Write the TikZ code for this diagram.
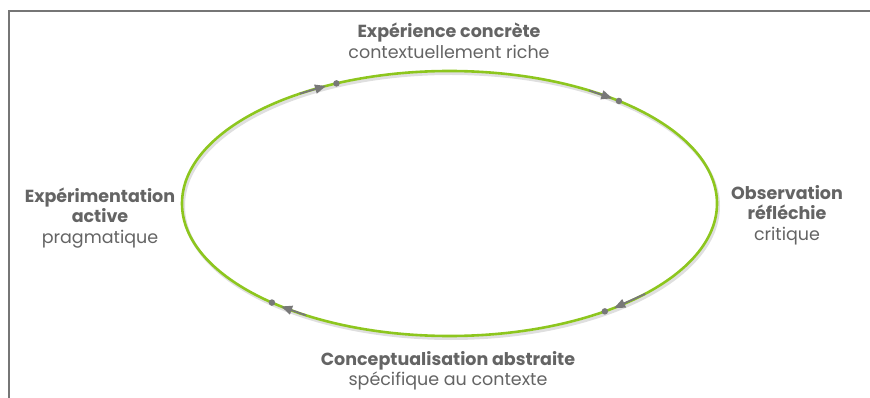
\documentclass[tikz,border=0pt]{standalone}
\usepackage{fontspec}
\setmainfont{Poppins}
\usetikzlibrary{calc,arrows.meta}
\definecolor{cyclegreen}{RGB}{141,198,30}
\definecolor{markgray}{RGB}{120,120,120}
\definecolor{textgray}{RGB}{100,100,100}
\definecolor{framegray}{RGB}{118,118,118}

\begin{document}
\begin{tikzpicture}[
    x=1pt, y=-1pt,
    stage/.style={
        align=center,
        text=textgray,
        font=\fontsize{17.5}{20.5}\selectfont  % title + subtitle, one line each
    },
    flow/.style={
        draw=markgray,
        line width=1.8pt,
        -{Triangle[length=11pt,width=9pt]}
    },
    pin/.style={
        circle,
        fill=markgray,
        minimum size=6.5pt,
        inner sep=0pt
    }
]
\useasboundingbox (0,0) rectangle (870,398);

% frame on top and left
\draw[framegray, line width=2pt] (8.5,398) -- (8.5,11) -- (870,11);

% the learning cycle
\coordinate (c) at (449.5,203.5);
\draw[gray!25, line width=3pt] ($(c)+(1.5,2.5)$) ellipse [x radius=267.5, y radius=132.5];
\draw[cyclegreen, line width=2.6pt] (c) ellipse [x radius=267.5, y radius=132.5];

% direction marks: tail angle, tip angle, dot angle
\foreach \from/\to/\at/\name in {124/117.5/115/p1, 58.5/52.5/50.7/p2,
                                 -43/-52/-54.5/p3, -122.5/-129/-131.6/p4} {
    \coordinate (\name-tail) at ({449.5+267.5*cos(\from)},{203.5-132.5*sin(\from)});
    \coordinate (\name-tip) at ({449.5+267.5*cos(\to)},{203.5-132.5*sin(\to)});
    \node[pin] (\name) at ({449.5+267.5*cos(\at)},{203.5-132.5*sin(\at)}) {};
    \draw[flow] (\name-tail) -- (\name-tip);
}

% the four stages
\node[stage] (concrete) at (449,41)
    {\textbf{Expérience concrète}\\contextuellement riche};
\node[stage] (reflective) at (787,215)
    {\textbf{Observation}\\\textbf{réfléchie}\\critique};
\node[stage] (abstract) at (448,371)
    {\textbf{Conceptualisation abstraite}\\spécifique au contexte};
\node[stage] (active) at (100,218)
    {\textbf{Expérimentation}\\\textbf{active}\\pragmatique};
\end{tikzpicture}
\end{document}
